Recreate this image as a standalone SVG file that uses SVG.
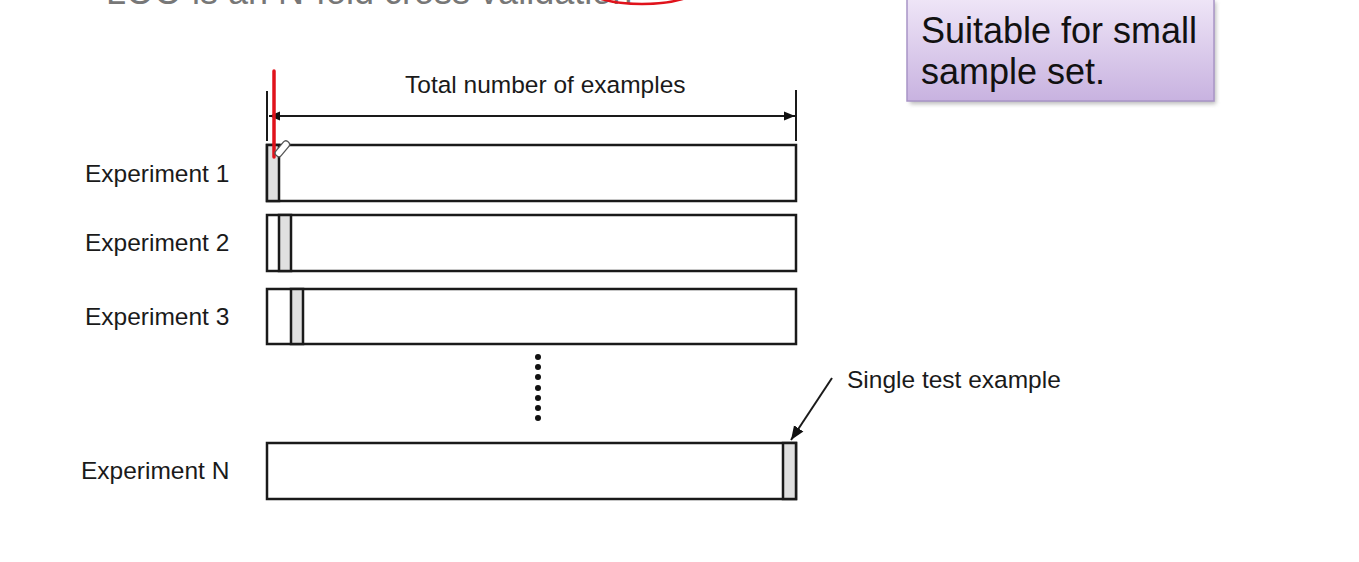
<svg xmlns="http://www.w3.org/2000/svg" width="1359" height="562" viewBox="0 0 1359 562">
<style>
.lbl{font-family:"Liberation Sans",Arial,sans-serif;font-size:24.5px;fill:#1a1a1a}
.bar{fill:#fff;stroke:#1a1a1a;stroke-width:2.5}
.cell{fill:#e0e0e0;stroke:#1a1a1a;stroke-width:2.5}
.ln{stroke:#1a1a1a;stroke-width:2;fill:none}
.dot{fill:#111}
</style>
<defs>
<marker id="ah" viewBox="0 0 10 10" refX="10" refY="5" markerWidth="11" markerHeight="11" orient="auto-start-reverse" markerUnits="userSpaceOnUse">
<path d="M0,1 L10,5 L0,9 z" fill="#111"/>
</marker>
<marker id="ah2" viewBox="0 0 10 10" refX="10" refY="5" markerWidth="14" markerHeight="14" orient="auto" markerUnits="userSpaceOnUse">
<path d="M0,1 L10,5 L0,9 z" fill="#111"/>
</marker>
<linearGradient id="pg" x1="0" y1="0" x2="0" y2="1">
<stop offset="0" stop-color="#efe6f7"/>
<stop offset="1" stop-color="#c8b2e0"/>
</linearGradient>
<filter id="sh" x="-10%" y="-10%" width="120%" height="130%">
<feGaussianBlur stdDeviation="2"/>
</filter>
</defs>
<rect width="1359" height="562" fill="#fff"/>

<!-- cut-off title at top -->
<text x="106" y="4" style="font-family:'Liberation Sans',Arial,sans-serif;font-size:36px;fill:#777">LOO is an N-fold cross validation</text>
<ellipse cx="642" cy="-12" rx="56" ry="16" fill="none" stroke="#e0121b" stroke-width="2.5"/>

<!-- note box -->
<g id="note">
<rect x="910" y="2" width="306" height="102" fill="#777" opacity="0.5" filter="url(#sh)"/>
<rect x="907" y="-2" width="307" height="103" fill="url(#pg)" stroke="#a894c6" stroke-width="1.5"/>
<text x="921" y="43" style="font-family:'Liberation Sans',Arial,sans-serif;font-size:36px;fill:#111">Suitable for small</text>
<text x="921" y="84" style="font-family:'Liberation Sans',Arial,sans-serif;font-size:36px;fill:#111">sample set.</text>
</g>

<!-- dimension -->
<g id="dimension">
<line class="ln" x1="267" y1="91" x2="267" y2="141"/>
<line class="ln" x1="796" y1="90" x2="796" y2="141"/>
<text class="lbl" x="405" y="93">Total number of examples</text>
</g>

<g id="exp1">
<text class="lbl" x="85" y="182">Experiment 1</text>
<rect class="bar" x="267" y="145" width="529" height="56"/>
<rect class="cell" x="267" y="145" width="12" height="56"/>
</g>
<g id="exp2">
<text class="lbl" x="85" y="251">Experiment 2</text>
<rect class="bar" x="267" y="215" width="529" height="56"/>
<rect class="cell" x="279" y="215" width="12" height="56"/>
</g>
<g id="exp3">
<text class="lbl" x="85" y="325">Experiment 3</text>
<rect class="bar" x="267" y="289" width="529" height="55"/>
<rect class="cell" x="291" y="289" width="12" height="55"/>
</g>
<g id="ellipsis">
<circle class="dot" cx="538" cy="357" r="3"/>
<circle class="dot" cx="538" cy="367" r="3"/>
<circle class="dot" cx="538" cy="377" r="3"/>
<circle class="dot" cx="538" cy="388" r="3"/>
<circle class="dot" cx="538" cy="398" r="3"/>
<circle class="dot" cx="538" cy="408" r="3"/>
<circle class="dot" cx="538" cy="418" r="3"/>
</g>
<g id="expN">
<text class="lbl" x="81" y="479">Experiment N</text>
<rect class="bar" x="267" y="443" width="529" height="56"/>
<rect class="cell" x="783" y="443" width="13" height="56"/>
</g>
<g id="single">
<text class="lbl" x="847" y="388">Single test example</text>
</g>

<g id="connectors">
<line class="ln" x1="269" y1="116" x2="795" y2="116" marker-start="url(#ah)" marker-end="url(#ah)"/>
<line class="ln" x1="832" y1="378" x2="791" y2="440" marker-end="url(#ah2)"/>
</g>

<!-- red annotation -->
<g id="annotation">
<line x1="274" y1="71" x2="274" y2="157" stroke="#e0121b" stroke-width="3.5" stroke-linecap="round"/>
<g transform="translate(283,148) rotate(-50)">
<rect x="-10" y="-3.5" width="18" height="7" rx="3" fill="#fff" stroke="#555" stroke-width="1.3"/>
</g>
</g>
</svg>
